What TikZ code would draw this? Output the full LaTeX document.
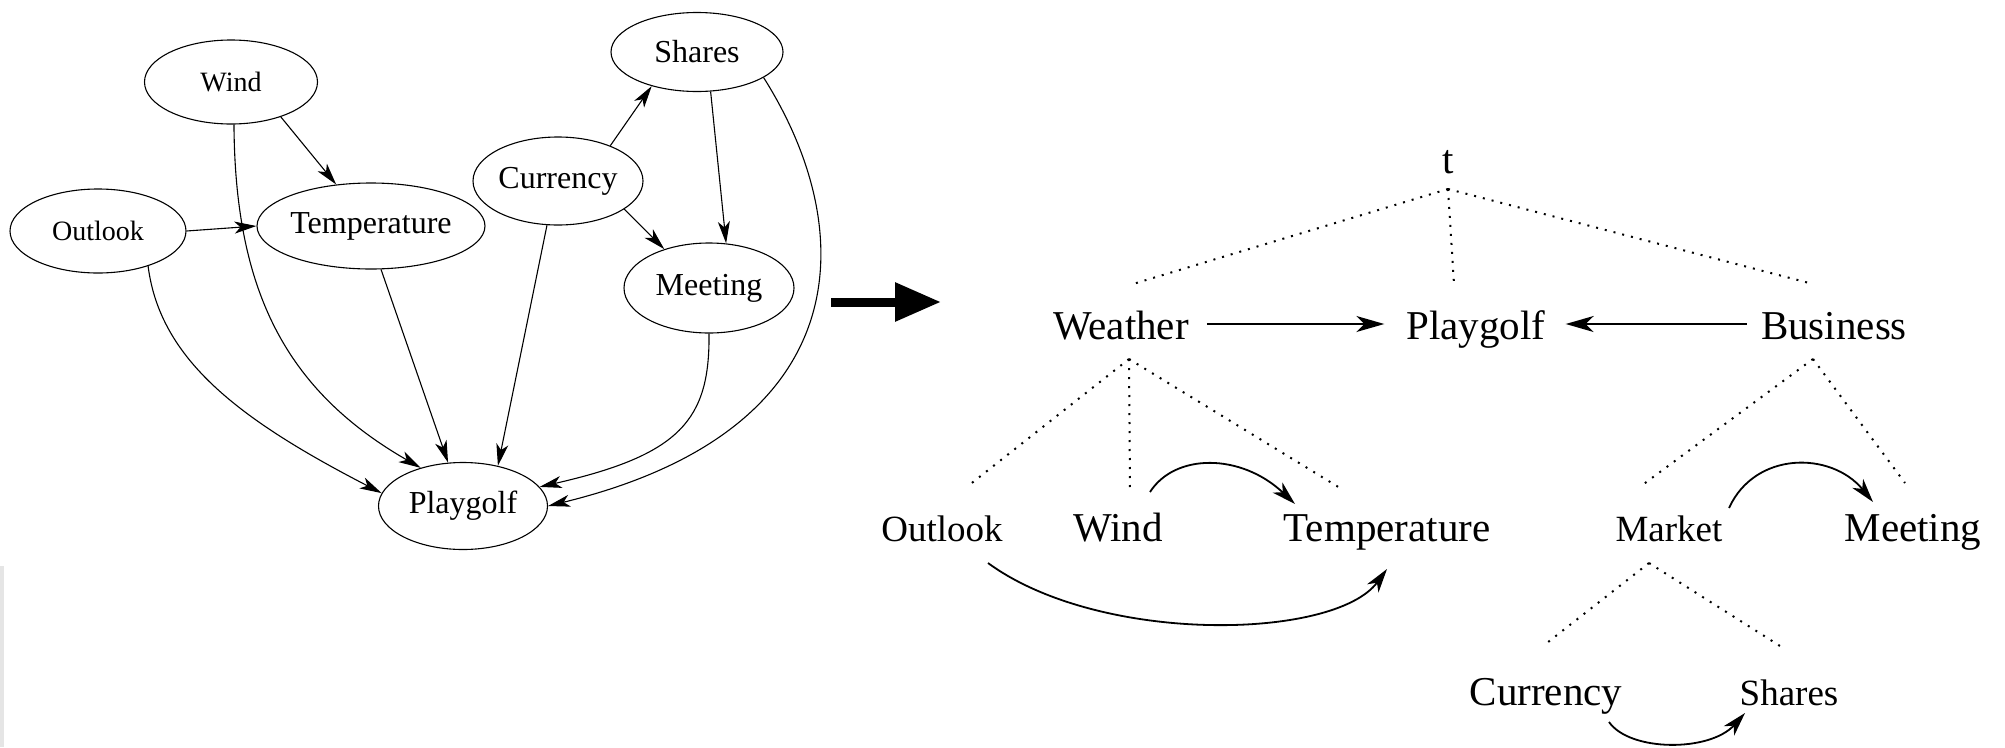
\documentclass[tikz,border=0pt]{standalone}
\usepackage{fontspec}
\setmainfont{Liberation Serif}
\usetikzlibrary{arrows.meta,shapes.geometric}
\tikzset{
  ell/.style={draw, line width=1.1pt, ellipse, inner sep=0pt, font=\fontsize{32}{36}\selectfont},
  ells/.style={ell, font=\fontsize{28}{33}\selectfont},
  larr/.style={line width=1.1pt, -{Stealth[length=22pt,width=12pt,inset=6pt]}},
  tn/.style={inner sep=0pt, anchor=base, font=\fontsize{41}{48}\selectfont},
  tns/.style={tn, font=\fontsize{37}{44}\selectfont},
  tree/.style={line width=2pt, dash pattern=on 2pt off 7pt},
  rarr/.style={line width=2pt, -{Stealth[length=28pt,width=16pt,inset=8pt]}},
  carr/.style={line width=1.8pt, -{Stealth[length=24pt,width=14pt,inset=7pt]}},
}
\begin{document}
\begin{tikzpicture}[x=1pt,y=-1pt]
\useasboundingbox (0,0) rectangle (2005,747);
\fill[black!10] (0,566) rectangle (4,747);
% ---------- left graph ----------
\node[ells, minimum width=173, minimum height=84] (wind) at (231,82) {Wind};
\node[ell, minimum width=172, minimum height=79] (shares) at (697,52) {Shares};
\node[ell, minimum width=170, minimum height=88] (currency) at (558,181) {Currency};
\node[ells, minimum width=176, minimum height=84] (outlook) at (98,231) {Outlook};
\node[ell, minimum width=174, minimum height=86] (temp) at (371,226) {Temperature};
\node[ell, minimum width=170, minimum height=90] (meeting) at (709,288) {Meeting};
\node[ell, minimum width=169, minimum height=87] (pgL) at (463,506) {Playgolf};

\draw[larr] (wind.-35) -- (temp.130);
\draw[larr] (wind.-86) .. controls (235,290) and (285,390) .. (pgL.138);
\draw[larr] (outlook.east) -- (temp.west);
\draw[larr] (outlook.-35) .. controls (160,360) and (240,420) .. (pgL.171);
\draw[larr] (temp.-77) -- (pgL.109);
\draw[larr] (currency.-104) -- (pgL.49);
\draw[larr] (currency.34) -- (shares.-143);
\draw[larr] (currency.-23) -- (meeting.139);
\draw[larr] (shares.-71) -- (meeting.69);
\draw[larr] (meeting.south) .. controls (710,420) and (680,455) .. (pgL.14);
\draw[larr] (shares.-21) .. controls (860,230) and (860,430) .. (pgL.east);

% ---------- big arrow ----------
\coordinate (bigA) at (831,302);
\coordinate (bigB) at (941,302);
\draw[line width=9pt, -{Triangle[length=46pt,width=37pt]}] (bigA) -- (bigB);

% ---------- right tree ----------
\node[tn] (t) at (1448,173) {t};
\node[tn] (weather) at (1121,339) {Weather};
\node[tn] (pgR) at (1476,339) {Playgolf};
\node[tn] (business) at (1834,339) {Business};
\node[tns] (outlookR) at (942,541) {Outlook};
\node[tn] (windR) at (1118,541) {Wind};
\node[tn] (tempR) at (1387,541) {Temperature};
\node[tns] (market) at (1669,541) {Market};
\node[tn] (meetingR) at (1913,541) {Meeting};
\node[tn] (currencyR) at (1546,705) {Currency};
\node[tns] (sharesR) at (1789,705) {Shares};

\draw[tree] ([yshift=-16pt]t.base) -- ([shift={(12pt,55pt)}]weather.base);
\draw[tree] ([yshift=-16pt]t.base) -- ([shift={(-22pt,55pt)}]pgR.base);
\draw[tree] ([yshift=-16pt]t.base) -- ([shift={(-21pt,55pt)}]business.base);
\draw[tree] ([shift={(8pt,-20pt)}]weather.base) -- ([shift={(26pt,55pt)}]outlookR.base);
\draw[tree] ([shift={(8pt,-20pt)}]weather.base) -- ([shift={(12pt,51pt)}]windR.base);
\draw[tree] ([shift={(8pt,-20pt)}]weather.base) -- ([shift={(-47pt,53pt)}]tempR.base);
\draw[tree] ([shift={(-21pt,-20pt)}]business.base) -- ([shift={(-28pt,55pt)}]market.base);
\draw[tree] ([shift={(-21pt,-20pt)}]business.base) -- ([shift={(-8pt,58pt)}]meetingR.base);
\draw[tree] ([shift={(-20pt,-22pt)}]market.base) -- ([shift={(-3pt,59pt)}]currencyR.base);
\draw[tree] ([shift={(-20pt,-22pt)}]market.base) -- ([shift={(-9pt,59pt)}]sharesR.base);

\draw[rarr] ([shift={(18pt,15pt)}]weather.base east) -- ([shift={(-22pt,15pt)}]pgR.base west);
\draw[rarr] ([shift={(-14pt,15pt)}]business.base west) -- ([shift={(20pt,15pt)}]pgR.base east);

\draw[carr] ([shift={(32pt,49pt)}]windR.base) .. controls (1175,453) and (1241,453) .. ([shift={(-92pt,37pt)}]tempR.base);
\draw[carr] ([shift={(46pt,-22pt)}]outlookR.base) .. controls (1100,645) and (1335,640) .. ([shift={(0pt,-28pt)}]tempR.base);
\draw[carr] ([shift={(60pt,33pt)}]market.base) .. controls (1755,451) and (1831,451) .. ([shift={(-40pt,39pt)}]meetingR.base);
\draw[carr] ([shift={(63pt,-17pt)}]currencyR.base) .. controls (1630,752) and (1710,752) .. ([shift={(-44pt,-8pt)}]sharesR.base);
\end{tikzpicture}
\end{document}
